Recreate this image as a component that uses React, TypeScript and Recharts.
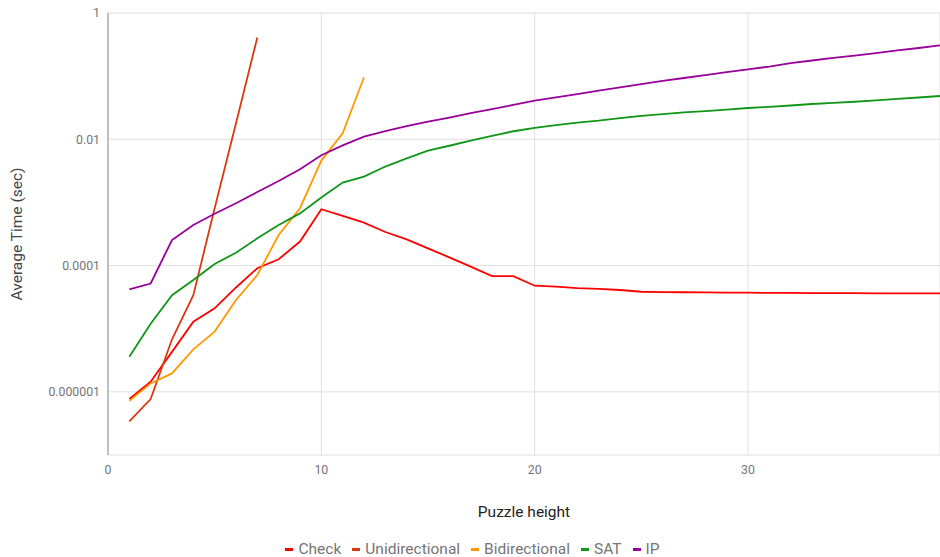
import React from "react";
import { LineChart, Line, XAxis, YAxis, CartesianGrid, Legend } from "recharts";

const heights = [1, 2, 3, 4, 5, 6, 7, 8, 9, 10, 11, 12, 13, 14, 15, 16, 17, 18, 19, 20, 21, 22, 23, 24, 25, 26, 27, 28, 29, 30, 31, 32, 33, 34, 35, 36, 37, 38, 39];

const checkValues = [7.7e-7, 1.45e-6, 4.3e-6, 1.29e-5, 2.1e-5, 4.5e-5, 9.1e-5, 1.26e-4, 2.4e-4, 7.8e-4, 6.1e-4, 4.8e-4, 3.4e-4, 2.6e-4, 1.87e-4, 1.35e-4, 9.6e-5, 6.8e-5, 6.8e-5, 4.8e-5, 4.65e-5, 4.4e-5, 4.28e-5, 4.1e-5, 3.85e-5, 3.8e-5, 3.78e-5, 3.76e-5, 3.74e-5, 3.72e-5, 3.7e-5, 3.7e-5, 3.67e-5, 3.66e-5, 3.65e-5, 3.64e-5, 3.63e-5, 3.63e-5, 3.62e-5];
const uniValues = [3.4e-7, 7.7e-7, 6.8e-6, 3.4e-5, 8.1e-4, 0.0179, 0.41];
const biValues = [7.2e-7, 1.36e-6, 1.96e-6, 4.7e-6, 9e-6, 2.85e-5, 7.1e-5, 3.05e-4, 8.1e-4, 4.6e-3, 0.0124, 0.096];
const satValues = [3.6e-6, 1.2e-5, 3.4e-5, 5.9e-5, 1.06e-4, 1.6e-4, 2.7e-4, 4.4e-4, 6.7e-4, 1.2e-3, 2.06e-3, 2.56e-3, 3.7e-3, 5.0e-3, 6.6e-3, 7.9e-3, 9.5e-3, 0.0113, 0.0134, 0.0151, 0.0168, 0.0183, 0.0197, 0.0217, 0.0234, 0.0251, 0.0266, 0.028, 0.0296, 0.0313, 0.0327, 0.0343, 0.0362, 0.0376, 0.0393, 0.0412, 0.0435, 0.0459, 0.0485];
const ipValues = [4.2e-5, 5.2e-5, 2.54e-4, 4.4e-4, 6.6e-4, 9.7e-4, 1.46e-3, 2.18e-3, 3.35e-3, 5.6e-3, 8.0e-3, 0.011, 0.0135, 0.0162, 0.019, 0.0221, 0.026, 0.03, 0.035, 0.041, 0.046, 0.052, 0.059, 0.0665, 0.075, 0.084, 0.0935, 0.104, 0.116, 0.128, 0.142, 0.161, 0.177, 0.194, 0.212, 0.232, 0.255, 0.279, 0.308];

const seriesNames = ["Check", "Unidirectional", "Bidirectional", "SAT", "IP"];
const seriesColors = ["#ff0000", "#dc3912", "#ff9900", "#109618", "#990099"];
const seriesValues = [checkValues, uniValues, biValues, satValues, ipValues];

const xTicks = [0, 10, 20, 30];
const yTicks = [1e-6, 1e-4, 1e-2, 1];
const yTickLabels = ["0.000001", "0.0001", "0.01", "1"];

const data = heights.map((h, i) => {
  const row: Record<string, number | undefined> = { h };
  seriesNames.forEach((n, s) => {
    row[n] = seriesValues[s][i];
  });
  return row;
});

const FONT = "Roboto, 'Noto Sans', sans-serif";

const yFormat = (v: number) => {
  const idx = yTicks.findIndex((t) => Math.abs(t - v) / t < 1e-6);
  return idx >= 0 ? yTickLabels[idx] : String(v);
};

const YTitle = (props: any) => {
  const vb = props.viewBox || {};
  const x = 17;
  const y = vb.y + vb.height / 2;
  return (
    <text
      x={x}
      y={y}
      transform={`rotate(-90 ${x} ${y})`}
      textAnchor="middle"
      dominantBaseline="central"
      fill="#444"
      fontSize={15.5}
      fontFamily={FONT}
    >
      Average Time (sec)
    </text>
  );
};

const XTitle = (props: any) => {
  const vb = props.viewBox || {};
  return (
    <text
      x={vb.x + vb.width / 2}
      y={vb.y + 61.5}
      textAnchor="middle"
      fill="#222"
      fontSize={15.5}
      fontFamily={FONT}
    >
      Puzzle height
    </text>
  );
};

const LegendContent = () => (
  <div
    style={{
      display: "flex",
      justifyContent: "center",
      alignItems: "center",
      gap: 11,
      fontFamily: FONT,
      fontSize: 15.5,
      color: "#757575",
      paddingLeft: 5,
      height: 18,
      lineHeight: "18px",
      whiteSpace: "nowrap",
    }}
  >
    {seriesNames.map((n, i) => (
      <div key={n} style={{ display: "flex", alignItems: "center", height: 18 }}>
        <span style={{ display: "inline-block", width: 8, height: 3, background: seriesColors[i], marginRight: 5 }} />
        <span>{n}</span>
      </div>
    ))}
  </div>
);

export default function App() {
  return (
    <div style={{ position: "absolute", left: 0, top: 0, width: 940, height: 557, background: "#fff" }}>
      <LineChart width={940} height={557} data={data} margin={{ top: 13, right: 0, bottom: 0, left: 0 }}>
        <CartesianGrid stroke="#e0e0e0" strokeWidth={1} />
        <XAxis
          dataKey="h"
          type="number"
          domain={[0, 39]}
          ticks={xTicks}
          allowDataOverflow
          axisLine={false}
          tickLine={false}
          tickMargin={4.5}
          height={102}
          tick={{ fill: "#757575", fontSize: 12.3, fontFamily: FONT }}
          label={<XTitle />}
        />
        <YAxis
          type="number"
          scale="log"
          domain={[1e-7, 1]}
          ticks={yTicks}
          allowDataOverflow
          width={108}
          axisLine={{ stroke: "#9e9e9e", strokeWidth: 1.2 }}
          tickLine={false}
          tickFormatter={yFormat}
          tick={{ fill: "#757575", fontSize: 12.3, fontFamily: FONT }}
          label={<YTitle />}
        />
        <Legend
          layout="horizontal"
          verticalAlign="middle"
          align="center"
          wrapperStyle={{ top: 540, left: 0, width: 940, height: 18 }}
          content={<LegendContent />}
        />
        {seriesNames.map((n, i) => (
          <Line
            key={n}
            dataKey={n}
            name={n}
            type="linear"
            stroke={seriesColors[i]}
            strokeWidth={1.8}
            dot={false}
            activeDot={false}
            isAnimationActive={false}
          />
        ))}
      </LineChart>
    </div>
  );
}
